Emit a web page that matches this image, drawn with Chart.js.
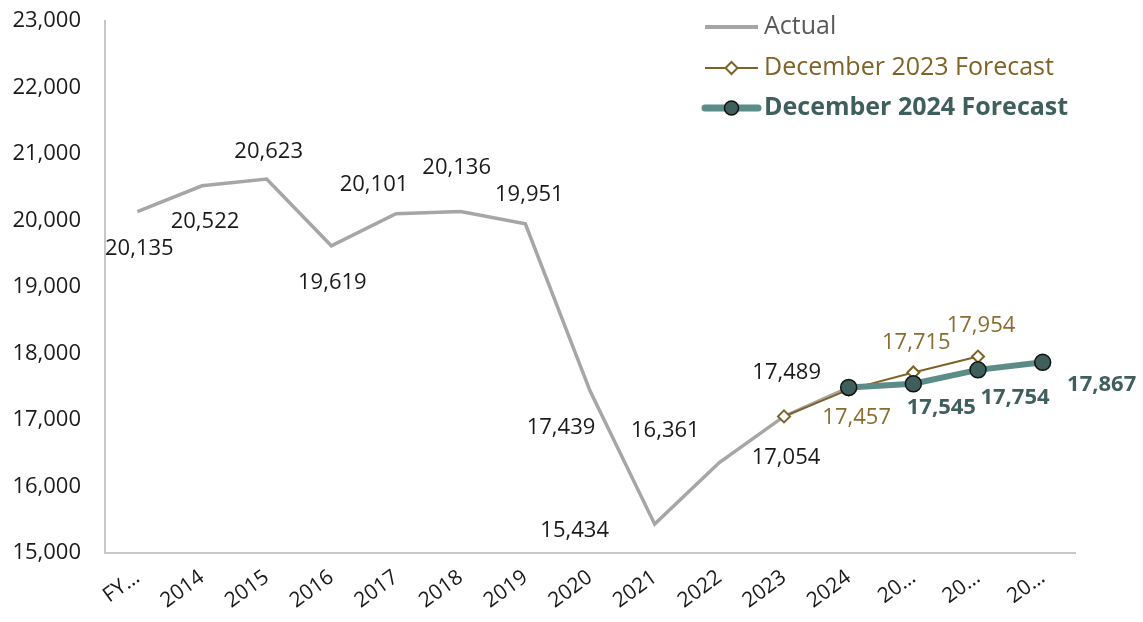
<!DOCTYPE html>
<html>
<head>
<meta charset="utf-8">
<script src="https://cdn.jsdelivr.net/npm/chart.js@4.4.1/dist/chart.umd.min.js"></script>
<style>
  html, body { margin: 0; padding: 0; background: #ffffff; }
  #wrap { width: 1143px; height: 622px; }
</style>
</head>
<body>
<div id="wrap"><canvas id="myChart" width="1143" height="622"></canvas></div>
<script>
// categories (fiscal years, truncated as in the original axis)
const categories = ['FY\u2026', '2014', '2015', '2016', '2017', '2018', '2019', '2020', '2021', '2022', '2023', '2024', '20\u2026', '20\u2026', '20\u2026'];

// series values
const actual          = [20135, 20522, 20623, 19619, 20101, 20136, 19951, 17439, 15434, 16361, 17054, 17489, null, null, null];
const forecastDec2023 = [null, null, null, null, null, null, null, null, null, null, 17054, 17457, 17715, 17954, null];
const forecastDec2024 = [null, null, null, null, null, null, null, null, null, null, null, 17489, 17545, 17754, 17867];

// y axis ticks
const yMin = 15000;
const yMax = 23000;
const yStep = 1000;

const FONT = "'Open Sans', 'Noto Sans', sans-serif";

// label offsets (dx, dy from the point) per dataset, null = no label
const labelOffsets = [
    [[2,37],[3,36],[2,-27],[1,37],[-22,-29],[-4,-44],[4,-29],[-29,37],[-80,7],[-54,-32],[2,41],[-62,-15],null,null,null],
    [null,null,null,null,null,null,null,null,null,null,null,[8,28],[3,-30],[3,-31],null],
    [null,null,null,null,null,null,null,null,null,null,null,null,[28,24],[37,28],[59,22]]
];
const labelStyle = [
    {color:'#1a1a1a', weight:'normal'},
    {color:'#8B6C2E', weight:'normal'},
    {color:'#3F5F5C', weight:'bold'}
];

const pointLabels = {
    id: 'pointLabels',
    afterDatasetsDraw(chart) {
        const ctx = chart.ctx;
        ctx.save();
        ctx.textAlign = 'center';
        ctx.textBaseline = 'middle';
        chart.data.datasets.forEach(function(ds, d) {
            const meta = chart.getDatasetMeta(d);
            meta.data.forEach(function(pt, k) {
                const off = labelOffsets[d][k];
                if (!off || ds.data[k] == null) return;
                ctx.font = labelStyle[d].weight + ' 22px ' + FONT;
                ctx.fillStyle = labelStyle[d].color;
                ctx.fillText(ds.data[k].toLocaleString('en-US'), pt.x + off[0], pt.y + off[1]);
            });
        });
        ctx.restore();
    }
};

const legendBox = {
    id: 'legendBox',
    afterDraw(chart) {
        const ctx = chart.ctx;
        const x0 = 705, x1 = 758, tx = 764;
        const rows = [27, 68, 108];
        ctx.save();
        ctx.textAlign = 'left';
        ctx.textBaseline = 'middle';
        ctx.lineCap = 'butt';

        // Actual
        ctx.strokeStyle = '#A6A6A6'; ctx.lineWidth = 4;
        ctx.beginPath(); ctx.moveTo(x0, rows[0]); ctx.lineTo(x1, rows[0]); ctx.stroke();
        ctx.font = '25px ' + FONT; ctx.fillStyle = '#595959';
        ctx.fillText('Actual', tx, rows[0]);

        // December 2023 Forecast
        ctx.strokeStyle = '#7F6326'; ctx.lineWidth = 2;
        ctx.beginPath(); ctx.moveTo(x0, rows[1]); ctx.lineTo(x1, rows[1]); ctx.stroke();
        const cx = (x0 + x1) / 2;
        ctx.beginPath();
        ctx.moveTo(cx, rows[1] - 6); ctx.lineTo(cx + 6, rows[1]); ctx.lineTo(cx, rows[1] + 6); ctx.lineTo(cx - 6, rows[1]); ctx.closePath();
        ctx.fillStyle = '#ffffff'; ctx.fill(); ctx.stroke();
        ctx.font = '25px ' + FONT; ctx.fillStyle = '#7F6326';
        ctx.fillText('December 2023 Forecast', tx, rows[1]);

        // December 2024 Forecast
        ctx.strokeStyle = '#5B8C87'; ctx.lineWidth = 7; ctx.lineCap = 'round';
        ctx.beginPath(); ctx.moveTo(x0, rows[2]); ctx.lineTo(x1, rows[2]); ctx.stroke();
        ctx.beginPath(); ctx.arc(cx, rows[2], 7, 0, Math.PI * 2);
        ctx.fillStyle = '#3F5F5C'; ctx.fill();
        ctx.strokeStyle = '#111111'; ctx.lineWidth = 1.5; ctx.stroke();
        ctx.font = 'bold 25px ' + FONT; ctx.fillStyle = '#3F5F5C';
        ctx.fillText('December 2024 Forecast', tx, rows[2]);
        ctx.restore();
    }
};

let myChart = document.getElementById('myChart').getContext('2d');

let chart = new Chart(myChart, {
    type: 'line',
    data: {
        labels: categories,
        datasets: [
            {
                label: 'Actual',
                data: actual,
                borderColor: '#A6A6A6',
                borderWidth: 3.5,
                pointRadius: 0,
                tension: 0,
                order: 3
            },
            {
                label: 'December 2023 Forecast',
                data: forecastDec2023,
                borderColor: '#7F6326',
                borderWidth: 2,
                pointStyle: 'rectRot',
                pointRadius: 6,
                pointBackgroundColor: '#ffffff',
                pointBorderColor: '#7F6326',
                pointBorderWidth: 2,
                tension: 0,
                order: 2
            },
            {
                label: 'December 2024 Forecast',
                data: forecastDec2024,
                borderColor: '#5B8C87',
                borderWidth: 6,
                pointStyle: 'circle',
                pointRadius: 8,
                pointBackgroundColor: '#3F5F5C',
                pointBorderColor: '#111111',
                pointBorderWidth: 1.5,
                tension: 0,
                order: 1
            }
        ]
    },
    options: {
        responsive: false,
        animation: false,
        layout: { padding: { top: 21, right: 68, left: 0, bottom: 0 } },
        plugins: {
            legend: { display: false },
            tooltip: { enabled: false },
            title: { display: false }
        },
        scales: {
            x: {
                offset: true,
                grid: { display: false, drawTicks: false },
                border: { display: true, color: '#C8C8C8', width: 2 },
                ticks: {
                    autoSkip: false,
                    maxRotation: 36,
                    minRotation: 36,
                    padding: 12,
                    color: '#1a1a1a',
                    font: { family: FONT, size: 21 }
                },
                afterFit: function(s) { s.height = 69; }
            },
            y: {
                min: yMin,
                max: yMax,
                grid: { display: false, drawTicks: false },
                border: { display: true, color: '#C8C8C8', width: 2 },
                ticks: {
                    stepSize: yStep,
                    padding: 24,
                    color: '#1a1a1a',
                    font: { family: FONT, size: 22 },
                    callback: function(v) { return v.toLocaleString('en-US'); }
                },
                afterFit: function(s) { s.width = 105; s.paddingTop = 0; s.paddingBottom = 0; }
            }
        }
    },
    plugins: [pointLabels, legendBox]
});
</script>
</body>
</html>
